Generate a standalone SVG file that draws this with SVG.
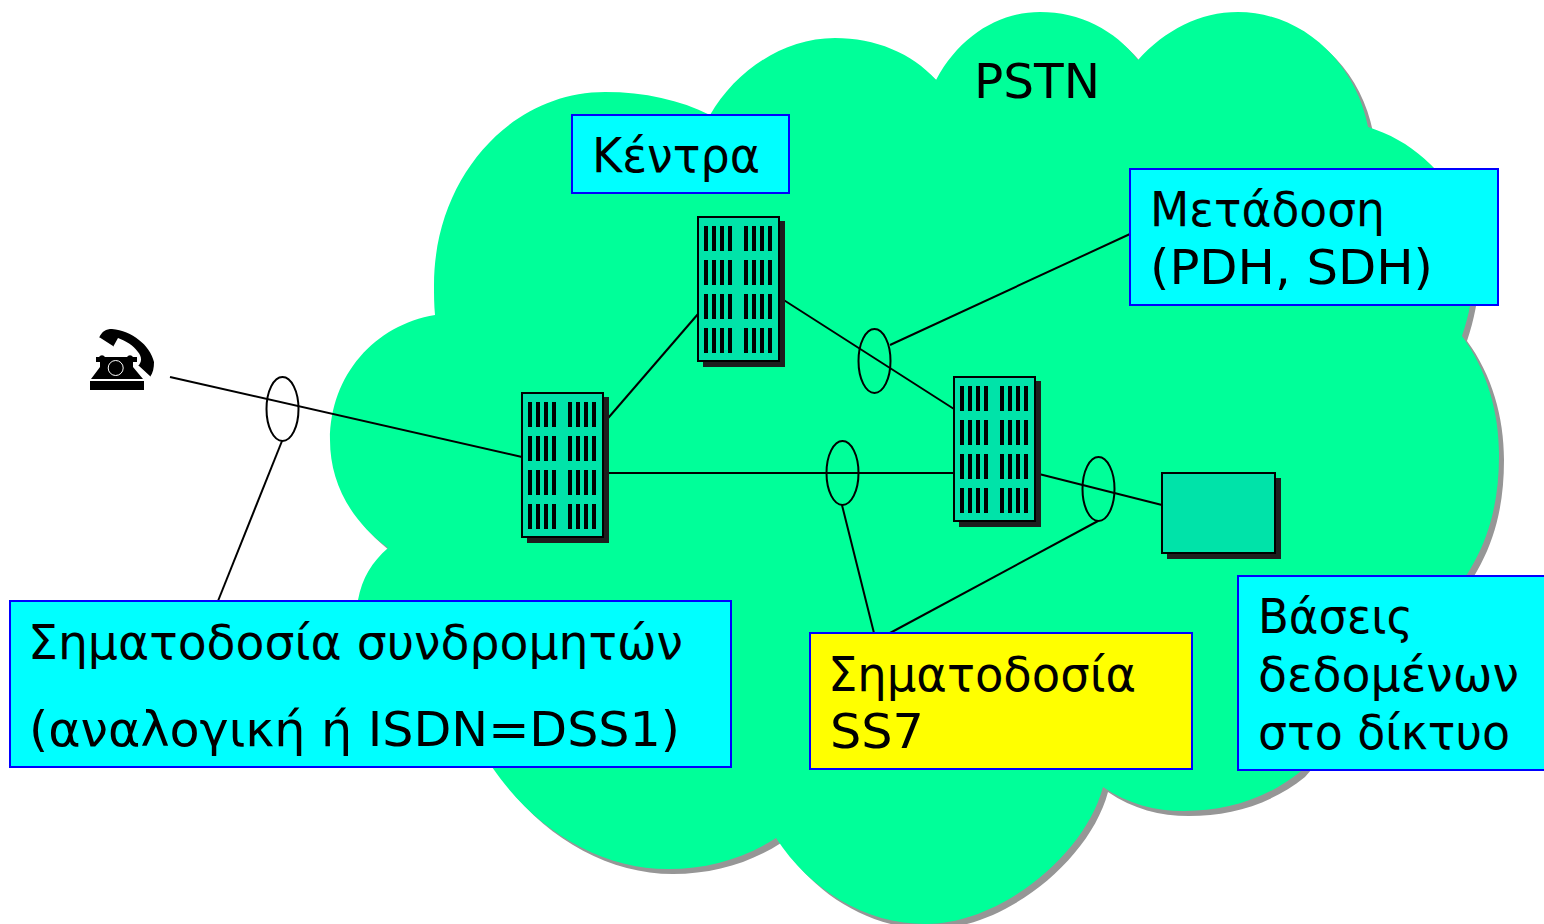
<svg xmlns="http://www.w3.org/2000/svg" width="1544" height="924" viewBox="0 0 1544 924">
<style>
text{font-family:"DejaVu Sans",Verdana,sans-serif;font-size:48px;fill:#000}
.box{stroke:#0000ff;stroke-width:2}
.cyan{fill:#00ffff}
.yellow{fill:#ffff00}
.ln{stroke:#000;stroke-width:2;fill:none}
.ring{stroke:#000;stroke-width:2;fill:none}
.dev{fill:#00e3a9;stroke:#000;stroke-width:2}
.shadow{fill:#1e1e1e}
</style>
<defs>
<path id="cloud" d="M710 115C735 72 782 38 835 38C875 38 912 53 936 80C960 35 1000 12 1040 12C1080 12 1115 30 1138 60C1165 30 1200 12 1238 12C1300 12 1355 60 1368 127C1410 140 1445 170 1465 215C1480 260 1474 300 1462 336C1487 370 1499 412 1499 455C1499 520 1480 565 1440 610L1300 772C1265 800 1225 811 1184 811C1155 811 1128 804 1103 787C1085 855 1000 924 926 924C865 924 810 890 776 838C745 858 708 869 668 869C600 869 535 830 492 767C430 690 355 660 358 600C362 578 372 562 388 548C350 520 330 482 330 440C330 375 375 325 435 315C434 305 434 295 434 285C434 178 510 92 605 92C645 92 680 100 710 115Z"/>
<g id="bars"><rect x="0" width="4" height="25"/><rect x="8" width="4" height="25"/><rect x="16" width="4" height="25"/><rect x="24" width="4" height="25"/><rect x="40" width="4" height="25"/><rect x="48" width="4" height="25"/><rect x="56" width="4" height="25"/><rect x="64" width="4" height="25"/></g>
<g id="server">
<rect class="shadow" x="5" y="4" width="82" height="146"/>
<rect class="dev" x="0" y="0" width="81" height="144"/>
<use href="#bars" x="6" y="9"/><use href="#bars" x="6" y="43"/><use href="#bars" x="6" y="77"/><use href="#bars" x="6" y="111"/>
</g>
</defs>
<rect width="1544" height="924" fill="#fff"/>
<g id="pstn-cloud">
<use href="#cloud" x="5" y="5" fill="#969696"/>
<use href="#cloud" fill="#00ff99"/>
<text x="974" y="98" textLength="126" lengthAdjust="spacingAndGlyphs">PSTN</text>
</g>
<g id="connectors">
<line class="ln" x1="170" y1="377" x2="522" y2="457"/>
<line class="ln" x1="282" y1="441" x2="218" y2="601"/>
<line class="ln" x1="603" y1="424" x2="698" y2="314"/>
<line class="ln" x1="603" y1="473" x2="954" y2="473"/>
<line class="ln" x1="779" y1="297" x2="954" y2="409"/>
<line class="ln" x1="890" y1="345" x2="1130" y2="234"/>
<line class="ln" x1="1035" y1="473" x2="1162" y2="505"/>
<line class="ln" x1="842" y1="505" x2="874" y2="633"/>
<line class="ln" x1="1098" y1="521" x2="890" y2="633"/>
<ellipse class="ring" cx="282.500" cy="409" rx="16" ry="32"/>
<ellipse class="ring" cx="874.500" cy="361" rx="16" ry="32"/>
<ellipse class="ring" cx="842.500" cy="473" rx="16" ry="32"/>
<ellipse class="ring" cx="1098.500" cy="489" rx="16" ry="32"/>
</g>
<g id="telephone">
<path d="M90 381H144V390H90ZM91 379L100 367V362H96V357H99A3.500 3.500 0 0 1 105 357H127A3.500 3.500 0 0 1 133 357H137V362H133V367L143 379Z"/>
<circle cx="115.700" cy="368" r="7.500" fill="none" stroke="#fff" stroke-width="1"/>
<path d="M99 338C102 331 106 329 112 329C132 331 150 345 154 362C154 368 153 373 150 377L138 366C142 362 142 357 138 352C133 345 126 341 118 338L113 347Z"/>
<path d="M99 338L113 347M138 366L150 377" stroke="#fff" stroke-width="1.500" fill="none"/>
</g>
<g id="server-1"><use href="#server" x="522" y="393"/></g>
<g id="server-2"><use href="#server" x="698" y="217"/></g>
<g id="server-3"><use href="#server" x="954" y="377"/></g>
<g id="database">
<rect class="shadow" x="1167" y="478" width="114" height="81"/>
<rect class="dev" x="1162" y="473" width="113" height="80"/>
</g>
<g id="label-kentra">
<rect class="box cyan" x="572" y="115" width="217" height="78"/>
<text x="592" y="172" textLength="168" lengthAdjust="spacingAndGlyphs">Κέντρα</text>
</g>
<g id="label-metadosi">
<rect class="box cyan" x="1130" y="169" width="368" height="136"/>
<text x="1150" y="226" textLength="235" lengthAdjust="spacingAndGlyphs">Μετάδοση</text>
<text x="1150" y="284" textLength="283" lengthAdjust="spacingAndGlyphs">(PDH, SDH)</text>
</g>
<g id="label-subscriber">
<rect class="box cyan" x="10" y="601" width="721" height="166"/>
<text x="28" y="659" textLength="655" lengthAdjust="spacingAndGlyphs">Σηματοδοσία συνδρομητών</text>
<text x="29" y="746" textLength="651" lengthAdjust="spacingAndGlyphs">(αναλογική ή ISDN=DSS1)</text>
</g>
<g id="label-ss7">
<rect class="box yellow" x="810" y="633" width="382" height="136"/>
<text x="828" y="691" textLength="308" lengthAdjust="spacingAndGlyphs">Σηματοδοσία</text>
<text x="830" y="748" textLength="94" lengthAdjust="spacingAndGlyphs">SS7</text>
</g>
<g id="label-databases">
<rect class="box cyan" x="1238" y="576" width="310" height="194"/>
<text x="1258" y="633" textLength="155" lengthAdjust="spacingAndGlyphs">Βάσεις</text>
<text x="1258" y="691" textLength="261" lengthAdjust="spacingAndGlyphs">δεδομένων</text>
<text x="1258" y="749" textLength="252" lengthAdjust="spacingAndGlyphs">στο δίκτυο</text>
</g>
</svg>
